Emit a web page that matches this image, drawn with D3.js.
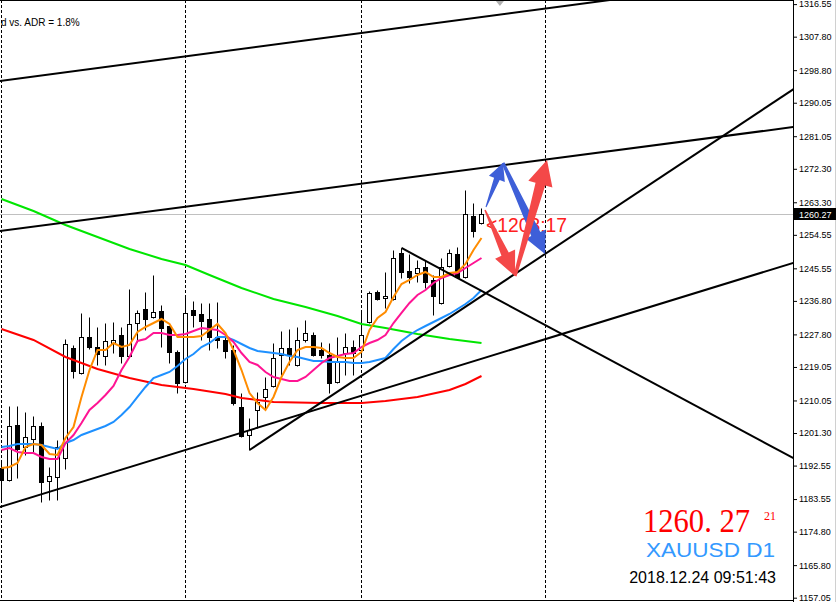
<!DOCTYPE html>
<html><head><meta charset="utf-8">
<script src="https://cdn.jsdelivr.net/npm/d3@7/dist/d3.min.js"></script>
<style>body{margin:0;background:#fff;overflow:hidden}svg{display:block}</style>
</head><body><svg id="c" width="837" height="602"></svg>
<script>
// ---- data (XAUUSD D1) ----
const opens = [1191.90,1188.67,1203.45,1197.54,1199.69,1203.19,1188.41,1189.48,1194.59,1224.15,
  1217.43,1227.10,1224.41,1222.00,1225.49,1227.64,1222.00,1230.86,1234.63,1232.48,
  1234.09,1230.06,1223.07,1215.01,1234.36,1233.28,1231.94,1227.10,1226.30,1223.61,
  1208.29,1200.77,1207.49,1210.98,1213.93,1222.26,1224.15,1219.58,1226.30,1227.64,
  1223.61,1222.26,1215.01,1222.80,1224.41,1223.61,1231.13,1239.19,1237.58,1237.31,
  1249.67,1244.84,1244.30,1245.91,1242.42,1236.24,1246.18,1249.41,1243.22,1259.62,1257.74];
const highs = [1193.51,1208.56,1208.56,1206.95,1205.87,1204.26,1192.17,1199.42,1226.56,1224.95,
  1233.55,1232.48,1229.79,1230.86,1231.13,1229.79,1240.00,1234.36,1239.19,1243.76,
  1235.70,1230.06,1223.61,1238.12,1236.78,1236.24,1236.24,1236.51,1228.18,1224.95,
  1212.05,1205.34,1212.32,1216.35,1225.49,1228.71,1229.25,1229.79,1231.67,1228.45,
  1225.76,1225.49,1227.10,1228.18,1226.30,1233.82,1239.46,1239.73,1244.57,1250.48,
  1251.02,1249.41,1247.79,1247.79,1243.76,1248.33,1250.75,1251.29,1266.60,1263.11,1261.77];
const lows = [1183.30,1188.41,1189.21,1195.39,1196.20,1182.76,1183.30,1183.30,1191.63,1216.08,
  1217.16,1223.88,1219.58,1219.58,1222.80,1220.12,1221.73,1225.76,1228.98,1232.21,
  1224.41,1220.12,1212.05,1214.74,1229.79,1226.30,1223.61,1224.15,1221.46,1208.83,
  1200.23,1196.74,1202.65,1207.49,1213.67,1216.89,1219.58,1219.31,1225.76,1222.00,
  1221.46,1212.05,1214.74,1216.89,1216.89,1222.26,1230.86,1237.04,1234.89,1237.04,
  1242.96,1241.61,1241.88,1240.27,1233.01,1235.97,1245.91,1242.96,1242.96,1253.97,1257.47];
const closes = [1188.67,1203.19,1197.01,1200.23,1203.19,1188.14,1189.75,1197.54,1225.22,1217.97,
  1227.10,1224.41,1222.53,1226.03,1226.30,1222.00,1230.60,1233.55,1231.94,1233.82,
  1229.52,1223.07,1214.74,1233.55,1233.01,1231.40,1227.10,1226.30,1223.34,1209.37,
  1200.50,1202.11,1209.64,1213.13,1221.46,1224.15,1222.26,1226.30,1228.18,1222.26,
  1222.26,1214.74,1220.38,1224.41,1222.80,1227.64,1238.93,1237.31,1238.12,1248.33,
  1244.57,1243.22,1245.64,1241.88,1238.12,1245.91,1249.67,1243.22,1260.15,1255.59,1260.27];

const maOrange = [1191.90,1192.17,1193.24,1197.54,1198.35,1198.08,1195.66,1195.39,1199.96,1202.92,
  1210.98,1218.23,1223.61,1223.61,1225.49,1224.41,1224.95,1228.45,1229.79,1230.86,
  1231.94,1230.60,1227.10,1227.10,1227.10,1227.37,1228.98,1230.60,1228.18,1223.61,
  1218.23,1212.05,1209.37,1207.49,1210.98,1216.35,1220.38,1223.61,1224.41,1224.41,
  1224.15,1222.80,1221.73,1221.46,1221.46,1223.07,1228.98,1232.21,1233.82,1237.85,
  1241.34,1242.42,1243.76,1244.57,1243.22,1243.22,1244.30,1244.57,1246.72,1250.48,1253.71];
const maPink = [1196.74,1197.27,1196.20,1195.93,1195.93,1194.86,1194.32,1194.32,1198.62,1200.77,
  1203.99,1207.49,1209.37,1211.52,1213.93,1218.23,1221.73,1226.03,1226.56,1228.18,
  1228.18,1227.64,1227.64,1227.91,1228.71,1229.52,1229.25,1228.98,1227.64,1225.76,
  1222.80,1220.38,1219.58,1217.70,1216.35,1215.81,1215.28,1215.28,1216.35,1218.23,
  1220.12,1221.46,1222.00,1222.53,1222.80,1224.41,1225.49,1226.30,1227.64,1230.86,
  1233.55,1236.24,1238.39,1239.73,1241.61,1242.96,1243.76,1244.30,1245.64,1246.99,1248.33];
const maBlue = [1197.54,1197.81,1198.35,1198.35,1198.35,1198.08,1197.54,1197.01,1198.62,1199.42,
  1200.77,1201.57,1202.38,1203.19,1204.26,1206.14,1208.29,1210.98,1213.67,1216.08,
  1216.89,1217.70,1219.31,1221.19,1222.53,1224.41,1225.49,1227.10,1227.10,1226.30,
  1225.22,1224.15,1223.34,1223.07,1222.80,1222.53,1222.00,1221.73,1221.19,1220.65,
  1220.65,1220.38,1220.38,1220.38,1220.12,1220.12,1220.38,1220.92,1221.46,1223.88,
  1226.03,1227.64,1228.98,1230.06,1231.13,1232.21,1233.28,1234.63,1235.97,1237.58,1239.73];
const maGreenIdx = [0,4,8,12,16,20,23,26,30,34,38,42,45,48,52,56,60];
const maGreen = [1264.19,1260.96,1257.20,1253.97,1250.75,1248.06,1246.45,1243.76,1240.27,1237.31,
  1235.16,1232.74,1230.60,1229.52,1227.91,1226.56,1225.49];
const maRedIdx = [0,4,8,12,16,20,24,28,30,34,40,45,48,52,56,58,60];
const maRed = [1229.25,1226.30,1221.73,1218.50,1216.08,1214.20,1213.13,1211.78,1210.71,1209.64,
  1209.37,1209.37,1209.90,1210.98,1212.86,1214.47,1216.62];

const priceTicks = [1316.55,1307.80,1298.80,1290.05,1281.05,1272.30,1263.30,1254.55,1245.55,1236.80,
  1227.80,1219.05,1210.05,1201.30,1192.55,1183.55,1174.80,1165.80,1157.05];
const separators = [0,23,45,68];
const lastPrice = 1260.27;

// trend lines: [idx1, price1, idx2, price2, extendLeft, extendRight]
const trendLines = [
  [0,1295.95,60,1313.07,true,true],
  [0,1255.64,60,1272.54,true,true],
  [0,1181.55,60,1221.24,true,true],
  [31,1196.74,60,1238.09,false,true],
  [50,1251.02,60,1239.49,false,true]
];
// arrows: [idxFrom, priceFrom, idxTo, priceTo]
const blueArrows = [[60.56,1262.04,62.69,1273.86],[62.69,1273.86,67.94,1249.41]];
const redArrows  = [[60.44,1261.23,64.19,1243.49],[64.19,1243.49,68.19,1274.67]];

// ---- drawing ----
const svg = d3.select('#c');
const PR = 793; // plot right edge
const x = d3.scaleLinear().domain([0,99]).range([1.5,793.5]);
const y = d3.scaleLinear().domain([1157.05,1316.55]).range([597.7,4.1]);

svg.append('defs').append('clipPath').attr('id','pc')
  .append('rect').attr('x',0).attr('y',0).attr('width',PR).attr('height',601);
const plot = svg.append('g').attr('clip-path','url(#pc)');

// separators
plot.selectAll('line.sep').data(separators).join('line')
  .attr('x1',d=>x(d)).attr('x2',d=>x(d)).attr('y1',0).attr('y2',602)
  .attr('stroke','#000').attr('stroke-width',1).attr('stroke-dasharray','3,2');

// last price line
plot.append('line').attr('x1',0).attr('x2',PR).attr('y1',Math.round(y(lastPrice))+0.5).attr('y2',Math.round(y(lastPrice))+0.5)
  .attr('stroke','#c0c0c0').attr('stroke-width',1);

// candles
const idx = d3.range(opens.length);
const ry = v => Math.round(y(v))+0.5;
plot.selectAll('line.wick').data(idx).join('line')
  .attr('x1',i=>x(i)).attr('x2',i=>x(i)).attr('y1',i=>ry(highs[i])).attr('y2',i=>ry(lows[i]))
  .attr('stroke','#000').attr('stroke-width',1);
plot.selectAll('rect.body').data(idx).join('rect')
  .attr('x',i=>x(i)-2).attr('width',4)
  .attr('y',i=>ry(Math.max(opens[i],closes[i])))
  .attr('height',i=>Math.max(ry(Math.min(opens[i],closes[i]))-ry(Math.max(opens[i],closes[i])),0.01))
  .attr('fill',i=>closes[i]>=opens[i]?'#fff':'#000')
  .attr('stroke','#000').attr('stroke-width',1);

// moving averages
const lineFull = d3.line().x((d,i)=>x(i)).y(d=>y(d));
function drawMA(vals,color){
  plot.append('path').attr('d',lineFull(vals)).attr('fill','none').attr('stroke',color).attr('stroke-width',2);
}
function drawMAIdx(ix,vals,color){
  const l = d3.line().x(d=>x(d[0])).y(d=>y(d[1]));
  plot.append('path').attr('d',l(ix.map((v,k)=>[v,vals[k]]))).attr('fill','none').attr('stroke',color).attr('stroke-width',2);
}
drawMAIdx(maRedIdx,maRed,'#ff0000');
drawMAIdx(maGreenIdx,maGreen,'#00e600');
drawMA(maBlue,'#1e90ff');
drawMA(maPink,'#ff1493');
drawMA(maOrange,'#ff8c00');

// trend lines
trendLines.forEach(t=>{
  const x1=x(t[0]),y1=y(t[1]),x2=x(t[2]),y2=y(t[3]);
  const s=(y2-y1)/(x2-x1);
  const xa=t[4]?-20:x1, xb=t[5]?PR+20:x2;
  plot.append('line').attr('x1',xa).attr('y1',y1+s*(xa-x1)).attr('x2',xb).attr('y2',y1+s*(xb-x1))
    .attr('stroke','#000').attr('stroke-width',2);
});

// countdown text (under arrows)
plot.append('text').attr('x',486).attr('y',232).text('<1203:17')
  .attr('font-family','Liberation Sans, Arial, sans-serif').attr('font-size',20).attr('fill','#ff2020')
  .attr('textLength',81).attr('lengthAdjust','spacingAndGlyphs');

// arrows
function arrowPts(a,w0,w1,hw,hl){
  const x1=x(a[0]),y1=y(a[1]),x2=x(a[2]),y2=y(a[3]);
  const dx=x2-x1,dy=y2-y1,L=Math.hypot(dx,dy),ux=dx/L,uy=dy/L,nx=-uy,ny=ux;
  const bx=x2-ux*hl,by=y2-uy*hl;
  return [[x1+nx*w0/2,y1+ny*w0/2],[bx+nx*w1/2,by+ny*w1/2],[bx+nx*hw/2,by+ny*hw/2],[x2,y2],
          [bx-nx*hw/2,by-ny*hw/2],[bx-nx*w1/2,by-ny*w1/2],[x1-nx*w0/2,y1-ny*w0/2]];
}
const blueSizes=[[1,6,17,17],[3,10,22,22]];
const redSizes=[[1.5,8,22,24],[3,10,25,25]];
blueArrows.forEach((a,k)=>{const s=blueSizes[k];
  plot.append('polygon').attr('points',arrowPts(a,...s).map(p=>p.join(',')).join(' ')).attr('fill','#3e5fd8');});
redArrows.forEach((a,k)=>{const s=redSizes[k];
  plot.append('polygon').attr('points',arrowPts(a,...s).map(p=>p.join(',')).join(' ')).attr('fill','#f44848');});

// small marker at top
plot.append('path').attr('d',`M${x(62.3)-4},1 L${x(62.3)+4},1 L${x(62.3)},6 Z`).attr('fill','#b0b0b0');

// frame
svg.append('line').attr('x1',0).attr('x2',PR).attr('y1',0.5).attr('y2',0.5).attr('stroke','#000');
svg.append('line').attr('x1',0).attr('x2',PR).attr('y1',600.5).attr('y2',600.5).attr('stroke','#000');
svg.append('line').attr('x1',PR+0.5).attr('x2',PR+0.5).attr('y1',0).attr('y2',602).attr('stroke','#000');
svg.append('line').attr('x1',835.5).attr('x2',835.5).attr('y1',0).attr('y2',602).attr('stroke','#d0d0d0');

// axis
const ax = d3.axisRight(y).tickValues(priceTicks).tickSize(4).tickSizeOuter(0).tickPadding(2)
  .tickFormat(d=>d.toFixed(2));
const ag = svg.append('g').attr('transform',`translate(${PR},0)`).call(ax);
ag.select('.domain').remove();
ag.selectAll('text').attr('font-family','Liberation Sans, Arial, sans-serif').attr('font-size',9).attr('fill','#000');

// last price box
const ly = Math.round(y(lastPrice));
svg.append('rect').attr('x',PR+1).attr('y',ly-6).attr('width',42).attr('height',12).attr('fill','#000');
svg.append('text').attr('x',PR+6).attr('y',ly+3.5).text(lastPrice.toFixed(2))
  .attr('font-family','Liberation Sans, Arial, sans-serif').attr('font-size',9).attr('fill','#fff');

// texts
svg.append('text').attr('x',1).attr('y',26).text('d vs. ADR = 1.8%')
  .attr('font-family','Liberation Sans, Arial, sans-serif').attr('font-size',10).attr('fill','#000');
svg.append('text').attr('x',750).attr('y',531.5).attr('text-anchor','end').text('1260. 27')
  .attr('font-family','Liberation Serif, Times New Roman, serif').attr('font-size',33).attr('fill','#ff0000')
  .attr('textLength',107).attr('lengthAdjust','spacingAndGlyphs');
svg.append('text').attr('x',776).attr('y',520).attr('text-anchor','end').text('21')
  .attr('font-family','Liberation Serif, Times New Roman, serif').attr('font-size',12).attr('fill','#ff0000');
svg.append('text').attr('x',775).attr('y',556.5).attr('text-anchor','end').text('XAUUSD D1')
  .attr('font-family','Liberation Sans, Arial, sans-serif').attr('font-size',21).attr('fill','#3399ff')
  .attr('textLength',129).attr('lengthAdjust','spacingAndGlyphs');
svg.append('text').attr('x',776).attr('y',582.5).attr('text-anchor','end').text('2018.12.24 09:51:43')
  .attr('font-family','Liberation Sans, Arial, sans-serif').attr('font-size',16).attr('fill','#000');
</script></body></html>
